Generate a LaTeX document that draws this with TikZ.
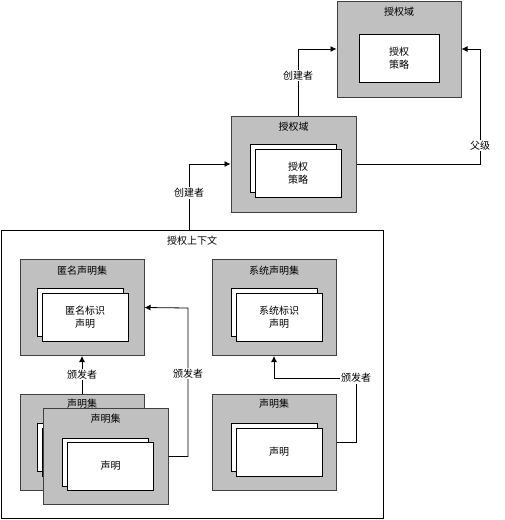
\documentclass[tikz,border=0pt]{standalone}
\usepackage{fontspec}
\setmainfont{Noto Sans CJK SC}
\usetikzlibrary{positioning,arrows.meta}
\definecolor{boxgray}{HTML}{C0C0C0}
\definecolor{edgegray}{HTML}{404040}

\begin{document}
\begin{tikzpicture}[x=1pt,y=-1pt,line width=0.8pt]
    \tikzstyle{marr}=[-{Latex[length=6pt,width=6pt]}]
    \tikzstyle{setbox}=[draw=edgegray,fill=boxgray,line width=1pt,minimum width=124pt,minimum height=96pt]
    \tikzstyle{paper}=[draw=black,fill=white,minimum width=86pt,minimum height=48pt,align=center,font=\fontsize{10}{13}\selectfont]
    \tikzstyle{ttl}=[inner sep=0pt,font=\fontsize{10}{12}\selectfont]
    \tikzstyle{tag}=[fill=white,inner sep=1pt,font=\fontsize{10}{12}\selectfont]

    \useasboundingbox (0,0) rectangle (505,520);

    % authorization domains
    \node[setbox] (dom1) at (399,49) {};
    \node[ttl,below=6pt of dom1.north] (dom1t) {授权域};
    \node[paper,minimum width=80pt] (dom1p) at (399,58) {授权\\策略};

    \node[setbox,minimum width=125pt] (dom2) at (293.5,164) {};
    \node[ttl,below=6pt of dom2.north] (dom2t) {授权域};
    \node[paper] (dom2pb) at (293.5,168.5) {};
    \node[paper] (dom2p) at (298,173.5) {授权\\策略};

    % context
    \node[draw=black,minimum width=382pt,minimum height=288pt] (ctx) at (192,374.5) {};
    \node[ttl,below=6pt of ctx.north] (ctxt) {授权上下文};

    \node[setbox] (anon) at (82,307.5) {};
    \node[ttl,below=7pt of anon.north] (anont) {匿名声明集};
    \node[paper] (anonpb) at (80,312.5) {};
    \node[paper] (anonp) at (85,317) {匿名标识\\声明};

    \node[setbox] (sys) at (274,307.5) {};
    \node[ttl,below=7pt of sys.north] (syst) {系统声明集};
    \node[paper] (syspb) at (274,312.5) {};
    \node[paper] (sysp) at (279,317) {系统标识\\声明};

    \node[setbox] (cs1) at (82,442) {};
    \node[ttl,below=5pt of cs1.north] (cs1t) {声明集};
    \node[paper] (cs1pb) at (80,447.5) {};
    \node[paper] (cs1p) at (85,452) {};

    \node[setbox,minimum width=125pt] (cs2) at (105.5,456.5) {};
    \node[ttl,below=6pt of cs2.north] (cs2t) {声明集};
    \node[paper] (cs2pb) at (105.5,462) {};
    \node[paper] (cs2p) at (110.5,466) {声明};

    \node[setbox] (cs3) at (274,442) {};
    \node[ttl,below=5pt of cs3.north] (cs3t) {声明集};
    \node[paper] (cs3pb) at (274,447.5) {};
    \node[paper] (cs3p) at (279,452) {声明};

    % connectors
    \coordinate (par) at (480,49);
    \coordinate (iss2) at (188,308);
    \coordinate (iss3) at (356,378);

    \draw[marr] (dom2.north -| 298,0) |- (dom1.west) node[tag,pos=0.3] {创建者};
    \draw[marr] (dom2.east) -| (par) node[tag,pos=0.58] {父级} -- (dom1.east);
    \draw[marr] (ctx.north -| 189,0) |- (dom2.west) node[tag,pos=0.28] {创建者};
    \draw[marr] (cs1.north) -- (anon.south) node[tag,midway] {颁发者};
    \draw[marr] (cs2.east) -| (iss2) node[tag,pos=0.78] {颁发者} -- (anon.east);
    \draw[marr] (cs3.east) -| (iss3) node[tag] {颁发者} -| (sys.south);

\end{tikzpicture}
\end{document}
